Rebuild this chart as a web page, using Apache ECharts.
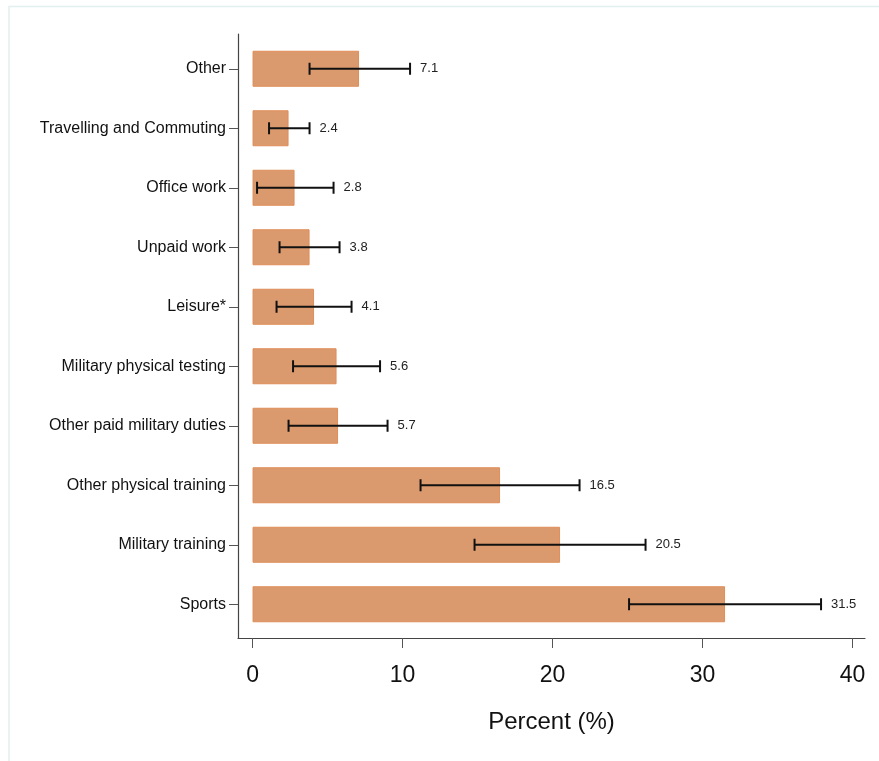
<!DOCTYPE html>
<html>
<head>
<meta charset="utf-8">
<script src="https://cdn.jsdelivr.net/npm/echarts@6/dist/echarts.min.js"></script>
<style>
  html, body { margin: 0; padding: 0; background: #fff; }
  #chart { width: 879px; height: 761px; }
</style>
</head>
<body>
<div id="chart"></div>
<script>
// Activity categories, listed top to bottom
const categories = [
  'Other',
  'Travelling and Commuting',
  'Office work',
  'Unpaid work',
  'Leisure*',
  'Military physical testing',
  'Other paid military duties',
  'Other physical training',
  'Military training',
  'Sports'
];
// Percentage of injuries per activity
const percents = [7.1, 2.4, 2.8, 3.8, 4.1, 5.6, 5.7, 16.5, 20.5, 31.5];
// 95% confidence interval bounds
const ciLower = [3.8, 1.1, 0.3, 1.8, 1.6, 2.7, 2.4, 11.2, 14.8, 25.1];
const ciUpper = [10.5, 3.8, 5.4, 5.8, 6.6, 8.5, 9.0, 21.8, 26.2, 37.9];
// Percent axis tick values
const xTicks = [0, 10, 20, 30, 40];

const FONT = '"Liberation Sans", Arial, sans-serif';
const X_MIN = -0.97, X_MAX = 40.83;

const errorData = categories.map((c, i) => [ciLower[i], ciUpper[i], percents[i], i]);

const chart = echarts.init(document.getElementById('chart'), null, { renderer: 'canvas' });

chart.setOption({
  animation: false,
  backgroundColor: '#ffffff',
  graphic: [{
    type: 'rect',
    shape: { x: 9, y: 6.5, width: 900, height: 800 },
    style: { fill: 'none', stroke: '#e3eeee', lineWidth: 1.5 },
    silent: true
  }],
  grid: [
    // bars, error bars and category labels
    { left: 238, right: 14, top: 39, bottom: 127 },
    // frame axes: percent axis and the vertical axis line
    { left: 238, right: 14, top: 34, bottom: 123 }
  ],
  xAxis: [
    {
      gridIndex: 0, type: 'value', min: X_MIN, max: X_MAX,
      show: false, splitLine: { show: false }
    },
    {
      gridIndex: 1, type: 'value', min: X_MIN, max: X_MAX,
      name: 'Percent (%)', nameLocation: 'middle', nameGap: 72,
      nameTextStyle: { fontFamily: FONT, fontSize: 24, color: '#111' },
      axisLine: { show: true, onZero: false, lineStyle: { color: '#444', width: 1.2 } },
      axisTick: { show: true, length: 10, customValues: xTicks, lineStyle: { color: '#555', width: 1 } },
      axisLabel: {
        customValues: xTicks, margin: 26,
        fontFamily: FONT, fontSize: 23, color: '#111'
      },
      splitLine: { show: false }
    }
  ],
  yAxis: [
    {
      gridIndex: 0, type: 'category', data: categories, inverse: true,
      axisLine: { show: false, onZero: false },
      axisTick: { show: true, alignWithLabel: true, length: 9, lineStyle: { color: '#555', width: 1 } },
      axisLabel: { margin: 12, fontFamily: FONT, fontSize: 16, color: '#111' },
      splitLine: { show: false }
    },
    {
      gridIndex: 1, type: 'value', min: 0, max: 1,
      axisLine: { show: true, onZero: false, lineStyle: { color: '#444', width: 1.2 } },
      axisTick: { show: false }, axisLabel: { show: false }, splitLine: { show: false }
    }
  ],
  series: [
    {
      type: 'bar',
      xAxisIndex: 0, yAxisIndex: 0,
      data: percents,
      barWidth: 36,
      itemStyle: { color: '#db9a6e', borderColor: '#df8d58', borderWidth: 1 },
      z: 2
    },
    {
      type: 'custom',
      xAxisIndex: 0, yAxisIndex: 0,
      data: errorData,
      encode: { x: [0, 1], y: 3 },
      z: 5,
      renderItem: function (params, api) {
        const idx = api.value(3);
        const p0 = api.coord([api.value(0), idx]);
        const p1 = api.coord([api.value(1), idx]);
        const cap = 6;
        const line = { stroke: '#111', lineWidth: 2 };
        return {
          type: 'group',
          children: [
            { type: 'line', shape: { x1: p0[0], y1: p0[1], x2: p1[0], y2: p1[1] }, style: line },
            { type: 'line', shape: { x1: p0[0], y1: p0[1] - cap, x2: p0[0], y2: p0[1] + cap }, style: line },
            { type: 'line', shape: { x1: p1[0], y1: p1[1] - cap, x2: p1[0], y2: p1[1] + cap }, style: line },
            {
              type: 'text',
              x: p1[0] + 10, y: p1[1],
              style: {
                text: String(api.value(2)),
                fill: '#222', font: '13px ' + FONT,
                textAlign: 'left', textVerticalAlign: 'middle'
              }
            }
          ]
        };
      }
    }
  ]
});
</script>
</body>
</html>
